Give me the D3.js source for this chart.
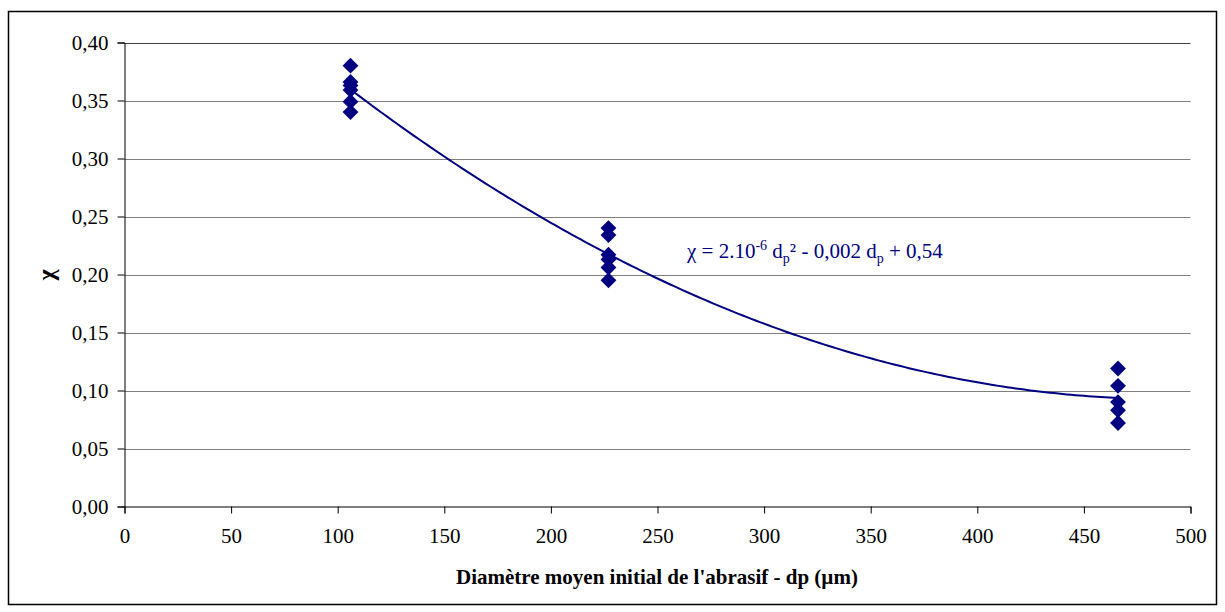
<!DOCTYPE html>
<html><head><meta charset="utf-8">
<script src="https://cdn.jsdelivr.net/npm/d3@7"></script>
<style>body{margin:0;background:#fff}</style>
</head><body><svg id="c" width="1225" height="612"></svg>
<script>
// Data
const xGroups = [106, 227, 466];
const yAt106 = [0.380, 0.366, 0.363, 0.359, 0.349, 0.340];
const yAt227 = [0.240, 0.234, 0.217, 0.213, 0.206, 0.195];
const yAt466 = [0.119, 0.104, 0.090, 0.083, 0.072];
const xTicks = [0, 50, 100, 150, 200, 250, 300, 350, 400, 450, 500];
const yTicks = [0, 0.05, 0.10, 0.15, 0.20, 0.25, 0.30, 0.35, 0.40];
const xTitle = "Diamètre moyen initial de l'abrasif - dp (µm)";
const yTitle = "χ";

const FONT = "Liberation Serif";

const points = [];
[yAt106, yAt227, yAt466].forEach((arr, i) => arr.forEach(v => points.push({x: xGroups[i], y: v})));

// least-squares quadratic fit of the points (trend line)
function polyfit2(pts){
  const S = Array.from({length:5},(_,k)=>d3.sum(pts,p=>Math.pow(p.x,k)));
  const T = Array.from({length:3},(_,k)=>d3.sum(pts,p=>p.y*Math.pow(p.x,k)));
  const A = [[S[0],S[1],S[2],T[0]],[S[1],S[2],S[3],T[1]],[S[2],S[3],S[4],T[2]]];
  for(let i=0;i<3;i++){for(let j=i+1;j<3;j++){const f=A[j][i]/A[i][i];for(let k=i;k<4;k++)A[j][k]-=f*A[i][k];}}
  const c=[0,0,0];
  for(let i=2;i>=0;i--){let s=A[i][3];for(let k=i+1;k<3;k++)s-=A[i][k]*c[k];c[i]=s/A[i][i];}
  return c;
}
const coef = polyfit2(points);

const svg = d3.select("#c").attr("font-family", FONT);
const L = 124.5, R = 1190.5, T = 42.5, B = 506.5;
const x = d3.scaleLinear().domain([0,500]).range([L,R]);
const y = d3.scaleLinear().domain([0,0.40]).range([B,T]);

svg.append("rect").attr("x",8.5).attr("y",11.5).attr("width",1208).attr("height",593)
  .attr("fill","#fff").attr("stroke","#000").attr("stroke-width",1.5);

// gridlines
svg.append("g").selectAll("line").data(yTicks.filter(d=>d>0)).join("line")
  .attr("x1",L).attr("x2",R).attr("y1",d=>Math.round(y(d))+0.5).attr("y2",d=>Math.round(y(d))+0.5)
  .attr("stroke",d=>d===0.40?"#404040":"#808080").attr("stroke-width",1);

// axes
const fmt = d => d3.format(".2f")(d).replace(".", ",");
const yAxis = svg.append("g").attr("transform",`translate(${L},0)`)
  .call(d3.axisLeft(y).tickValues(yTicks).tickFormat(fmt).tickSize(7).tickPadding(9));
const xAxis = svg.append("g").attr("transform",`translate(0,${B})`)
  .call(d3.axisBottom(x).tickValues(xTicks).tickSize(7).tickPadding(15));
[yAxis,xAxis].forEach(g=>{
  g.attr("font-family", FONT).attr("font-size", 21);
  g.select(".domain").attr("stroke","#000");
  g.selectAll(".tick line").attr("stroke","#000");
  g.selectAll("text").attr("fill","#000");
});

// trend line
const xs = d3.range(xGroups[0], xGroups[2]+0.5, 2);
svg.append("path").datum(xs)
  .attr("d", d3.line().x(d=>x(d)).y(d=>y(coef[0]+coef[1]*d+coef[2]*d*d)))
  .attr("fill","none").attr("stroke","#000080").attr("stroke-width",2);

// markers
svg.append("g").selectAll("path").data(points).join("path")
  .attr("transform",d=>`translate(${x(d.x)},${y(d.y)})`)
  .attr("d", d3.symbol().type(d3.symbolDiamond2).size(160))
  .attr("fill","#000080");

// equation label
const eq = svg.append("text").attr("x",687).attr("y",258).attr("fill","#000080")
  .attr("font-family", FONT).attr("font-size", 21);
eq.append("tspan").text("χ = 2.10");
eq.append("tspan").attr("dy",-8).attr("font-size",14).text("-6");
eq.append("tspan").attr("dy",8).text(" d");
eq.append("tspan").attr("dy",5).attr("font-size",14).text("p");
eq.append("tspan").attr("dy",-5).text("² - 0,002 d");
eq.append("tspan").attr("dy",5).attr("font-size",14).text("p");
eq.append("tspan").attr("dy",-5).text(" + 0,54");

// axis titles
svg.append("text").attr("x",657).attr("y",584).attr("text-anchor","middle")
  .attr("font-family", FONT).attr("font-size",21).attr("font-weight","bold").text(xTitle);
svg.append("text").attr("transform","translate(54,275) rotate(-90)").attr("text-anchor","middle")
  .attr("font-family", FONT).attr("font-size",24).attr("font-weight","bold").text(yTitle);
</script></body></html>
